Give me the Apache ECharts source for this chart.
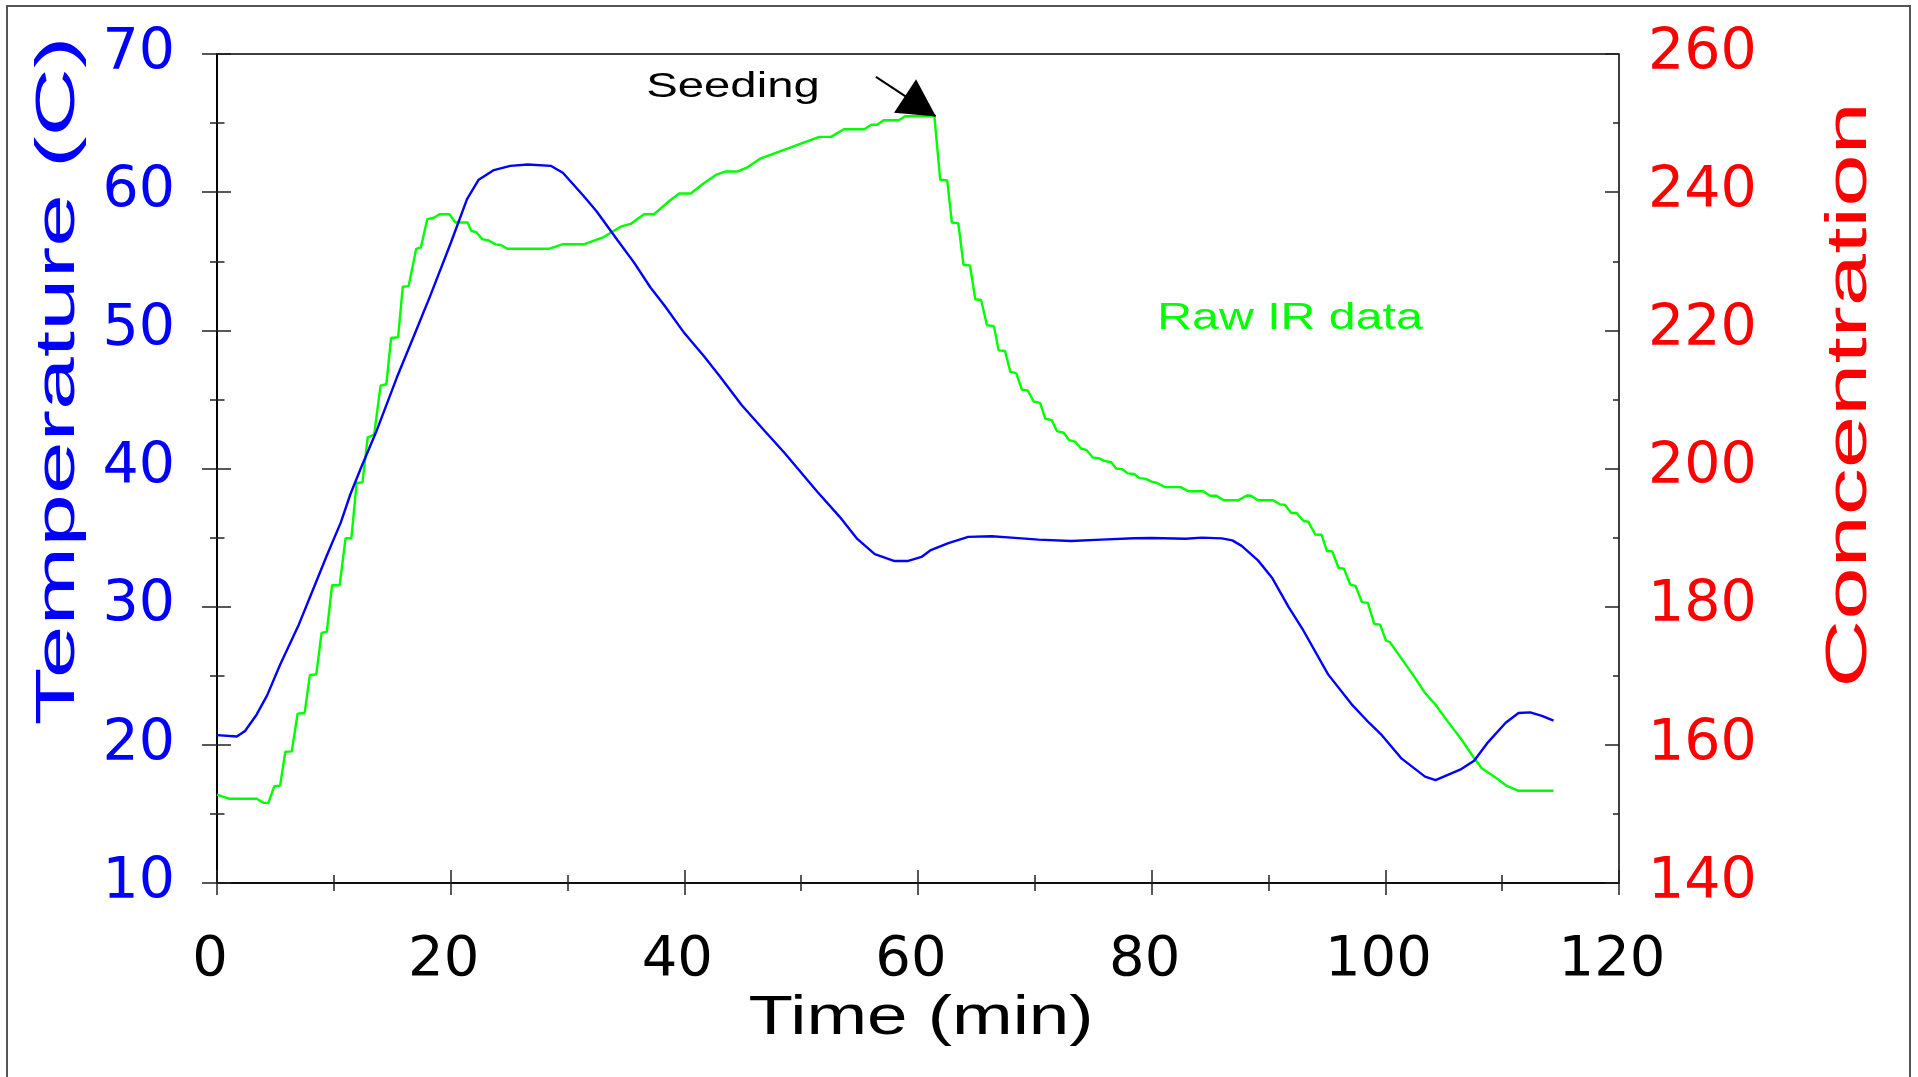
<!DOCTYPE html>
<html>
<head>
<meta charset="utf-8">
<script src="https://cdn.jsdelivr.net/npm/echarts@6/dist/echarts.min.js"></script>
<style>
html,body{margin:0;padding:0;background:#fff;}
#chart{width:1918px;height:1077px;}
</style>
</head>
<body>
<div id="chart"></div>
<script>
// ---- Data ----
const tempTime = [0, 1.7, 2.4, 3.4, 4.3, 5.4, 6.4, 7.0, 8.3, 9.4, 10.6, 11.4, 12.3, 13.6, 15.4, 17.0, 18.3, 20.0, 21.4, 22.4, 23.7, 25.1, 26.6, 28.6, 29.6, 31.4, 32.5, 34.3, 35.7, 37.1, 38.3, 40.0, 41.7, 43.1, 44.9, 46.9, 48.6, 49.7, 51.4, 53.3, 54.8, 56.3, 58.0, 59.1, 60.3, 61.1, 62.6, 64.3, 66.3, 68.0, 70.3, 73.1, 75.7, 78.5, 80.0, 82.9, 84.3, 86.0, 86.9, 87.7, 89.1, 90.3, 91.7, 92.9, 95.1, 97.1, 98.6, 99.7, 101.4, 103.4, 104.3, 106.4, 107.6, 108.8, 110.3, 111.4, 112.4, 113.4, 114.4];
const tempValues = [20.7, 20.6, 21.0, 22.2, 23.6, 25.8, 27.6, 28.7, 31.4, 33.7, 36.1, 38.1, 40.0, 42.6, 46.6, 49.9, 52.6, 56.3, 59.5, 60.9, 61.6, 61.9, 62.0, 61.9, 61.4, 59.7, 58.6, 56.5, 54.9, 53.1, 51.8, 49.8, 48.1, 46.6, 44.6, 42.7, 41.1, 40.0, 38.3, 36.5, 34.9, 33.8, 33.3, 33.3, 33.6, 34.1, 34.6, 35.05, 35.1, 35.0, 34.85, 34.75, 34.85, 34.95, 34.97, 34.92, 35.0, 34.94, 34.8, 34.4, 33.35, 32.1, 30.0, 28.4, 25.1, 22.95, 21.6, 20.7, 19.0, 17.7, 17.45, 18.2, 18.85, 20.2, 21.6, 22.3, 22.35, 22.1, 21.75];

const concTime = [0, 1.0, 3.4, 4.0, 4.4, 4.9, 5.4, 5.85, 6.4, 6.9, 7.5, 7.95, 8.5, 8.95, 9.4, 9.85, 10.5, 11.0, 11.5, 11.95, 12.45, 12.9, 13.45, 14.0, 14.5, 14.9, 15.5, 15.9, 16.4, 17.05, 17.45, 18.0, 18.55, 19.05, 19.9, 20.4, 21.45, 21.75, 22.2, 22.7, 23.25, 23.85, 24.3, 24.85, 28.4, 29.55, 31.4, 33.1, 34.55, 35.4, 36.55, 37.4, 38.55, 39.55, 40.55, 41.55, 42.7, 43.55, 44.55, 45.4, 46.55, 51.55, 52.55, 53.65, 55.4, 56.0, 56.5, 57.05, 58.35, 58.9, 61.4, 61.9, 62.5, 62.9, 63.45, 63.9, 64.45, 64.9, 65.4, 65.9, 66.5, 66.9, 67.45, 67.9, 68.4, 68.9, 69.4, 69.9, 70.45, 70.9, 71.45, 71.9, 72.45, 72.95, 73.45, 73.95, 74.4, 74.95, 75.45, 75.95, 76.55, 76.95, 77.5, 77.95, 78.5, 78.95, 79.5, 80.0, 80.45, 81.15, 82.5, 83.15, 84.4, 85.0, 85.55, 86.15, 87.4, 88.15, 88.5, 89.1, 90.4, 91.0, 91.4, 91.95, 92.4, 93.0, 93.4, 94.0, 94.55, 95.0, 95.45, 96.0, 96.45, 97.0, 97.45, 98.0, 98.5, 99.05, 99.55, 100.05, 100.4, 101.4, 102.4, 103.4, 104.25, 105.4, 106.55, 107.55, 108.25, 109.4, 110.4, 111.4, 114.4];
const concValues = [152.8, 152.2, 152.2, 151.6, 151.6, 154.0, 154.1, 159.0, 159.05, 164.5, 164.6, 170.1, 170.2, 176.2, 176.35, 183.1, 183.1, 189.9, 189.9, 197.9, 198.0, 204.5, 204.9, 212.0, 212.2, 218.9, 219.0, 226.3, 226.4, 231.8, 232.0, 236.1, 236.3, 236.8, 236.8, 235.6, 235.6, 234.4, 234.2, 233.2, 233.0, 232.45, 232.35, 231.8, 231.8, 232.45, 232.45, 233.5, 235.0, 235.4, 236.8, 236.8, 238.5, 239.8, 239.8, 241.15, 242.5, 243.0, 243.0, 243.6, 244.9, 248.0, 248.0, 249.1, 249.1, 249.75, 249.75, 250.4, 250.4, 251.0, 251.0, 241.8, 241.7, 235.6, 235.5, 229.45, 229.4, 224.5, 224.4, 220.75, 220.6, 217.1, 217.0, 214.0, 213.8, 211.4, 211.3, 209.7, 209.5, 207.2, 207.0, 205.4, 205.2, 204.1, 203.9, 202.9, 202.7, 201.6, 201.5, 201.1, 200.9, 200.0, 199.9, 199.3, 199.2, 198.6, 198.5, 198.1, 197.9, 197.3, 197.3, 196.7, 196.7, 196.05, 196.05, 195.4, 195.4, 196.1, 196.05, 195.4, 195.4, 194.8, 194.75, 193.55, 193.55, 192.4, 192.3, 190.45, 190.4, 188.05, 188.0, 185.6, 185.5, 183.2, 183.0, 180.65, 180.55, 177.5, 177.4, 175.1, 174.85, 172.45, 170.05, 167.5, 165.9, 163.25, 160.7, 158.2, 156.6, 155.3, 154.05, 153.35, 153.35];

// axis ranges: [min, max, interval]
const timeAxis = [0, 120, 20];
const tempAxis = [10, 70, 10];
const concAxis = [140, 260, 20];

// Seeding annotation (time, concentration)
const seedingFrom = [56.4, 256.7];
const seedingTo = [61.5, 251.0];

// ---- Chart ----
const chart = echarts.init(document.getElementById('chart'), null, {renderer: 'canvas'});
const tickColor = '#222';
const labelFont = 'DejaVu Sans';

function axisCommon(range) {
  return {type: 'value', min: range[0], max: range[1], interval: range[2],
    splitLine: {show: false}, minorSplitLine: {show: false}};
}

const option = {
  animation: false,
  backgroundColor: '#fff',
  grid: {left: 217, top: 54, width: 1402, height: 829, show: true, borderColor: '#000', borderWidth: 1.5,
    backgroundColor: 'transparent', outerBoundsMode: 'none', containLabel: false},
  xAxis: [
    Object.assign(axisCommon(timeAxis), {
      position: 'bottom',
      axisLine: {show: true, lineStyle: {color: '#000', width: 1.5}},
      axisTick: {show: true, inside: false, length: 12, lineStyle: {color: tickColor, width: 1.5}},
      minorTick: {show: true, splitNumber: 2, length: 8, lineStyle: {color: tickColor, width: 1.5}},
      axisLabel: {show: true, color: '#000', fontFamily: labelFont, fontSize: 56, margin: 49,
        padding: [0, 14, 0, 0], showMinLabel: true, showMaxLabel: true}
    }),
    Object.assign(axisCommon(timeAxis), {
      position: 'bottom',
      axisLine: {show: false},
      axisTick: {show: true, inside: true, length: 13, lineStyle: {color: tickColor, width: 1.5}},
      minorTick: {show: true, splitNumber: 2, length: 8, lineStyle: {color: tickColor, width: 1.5}},
      axisLabel: {show: false}
    })
  ],
  yAxis: [
    Object.assign(axisCommon(tempAxis), {
      position: 'left',
      axisLine: {show: true, lineStyle: {color: '#000', width: 1.5}},
      axisTick: {show: true, inside: false, length: 15, lineStyle: {color: tickColor, width: 1.5}},
      minorTick: {show: true, splitNumber: 2, length: 7, lineStyle: {color: tickColor, width: 1.5}},
      axisLabel: {show: true, color: '#0000FF', fontFamily: labelFont, fontSize: 57, margin: 42,
        showMinLabel: true, showMaxLabel: true}
    }),
    Object.assign(axisCommon(concAxis), {
      position: 'right',
      axisLine: {show: true, lineStyle: {color: '#000', width: 1.5}},
      axisTick: {show: true, inside: false, length: 14, lineStyle: {color: tickColor, width: 1.5}},
      minorTick: {show: true, splitNumber: 2, length: 7.5, lineStyle: {color: tickColor, width: 1.5}},
      axisLabel: {show: true, color: '#FF0000', fontFamily: labelFont, fontSize: 57, margin: 29,
        showMinLabel: true, showMaxLabel: true}
    }),
    Object.assign(axisCommon(tempAxis), {
      position: 'left',
      axisLine: {show: false},
      axisTick: {show: true, inside: true, length: 14, lineStyle: {color: tickColor, width: 1.5}},
      minorTick: {show: true, splitNumber: 2, length: 6, lineStyle: {color: tickColor, width: 1.5}},
      axisLabel: {show: false}
    }),
    Object.assign(axisCommon(concAxis), {
      position: 'right',
      axisLine: {show: false},
      axisTick: {show: true, inside: true, length: 14, lineStyle: {color: tickColor, width: 1.5}},
      minorTick: {show: true, splitNumber: 2, length: 6, lineStyle: {color: tickColor, width: 1.5}},
      axisLabel: {show: false}
    })
  ],
  series: [
    {
      name: 'Temperature', type: 'line', xAxisIndex: 0, yAxisIndex: 0,
      data: tempTime.map((t, i) => [t, tempValues[i]]),
      symbol: 'none', showSymbol: false,
      lineStyle: {color: '#0000FF', width: 2.4}, itemStyle: {color: '#0000FF'},
      silent: true, z: 3
    },
    {
      name: 'Raw IR data', type: 'line', xAxisIndex: 0, yAxisIndex: 1,
      data: concTime.map((t, i) => [t, concValues[i]]),
      symbol: 'none', showSymbol: false,
      lineStyle: {color: '#00FF00', width: 2.4}, itemStyle: {color: '#00FF00'},
      silent: true, z: 2,
      markLine: {
        silent: true,
        symbol: ['none', 'triangle'],
        symbolSize: 40,
        label: {show: false},
        emphasis: {disabled: true},
        lineStyle: {color: '#000', width: 2, type: 'solid'},
        itemStyle: {color: '#000'},
        data: [[
          {coord: seedingFrom},
          {coord: seedingTo, symbol: 'triangle', symbolSize: [40, 37], symbolOffset: [0, 18]}
        ]]
      }
    }
  ],
  graphic: [
    {type: 'rect', silent: true, z: -10, shape: {x: 7, y: 6, width: 1903, height: 1100},
      style: {fill: 'none', stroke: '#555', lineWidth: 2}},
    {type: 'text', silent: true, x: 59, y: 381, rotation: Math.PI / 2, scaleX: 1.69,
      style: {text: 'Temperature (C)', font: '56px "Liberation Sans"', fill: '#0000FF',
        align: 'center', verticalAlign: 'middle', textAlign: 'center', textVerticalAlign: 'middle'}},
    {type: 'text', silent: true, x: 1850, y: 395, rotation: Math.PI / 2, scaleX: 1.65,
      style: {text: 'Concentration', font: '57px "Liberation Sans"', fill: '#FF0000',
        align: 'center', verticalAlign: 'middle', textAlign: 'center', textVerticalAlign: 'middle'}},
    {type: 'text', silent: true, x: 921, y: 1019, scaleX: 1.30,
      style: {text: 'Time (min)', font: '56px "Liberation Sans"', fill: '#000',
        align: 'center', verticalAlign: 'middle', textAlign: 'center', textVerticalAlign: 'middle'}},
    {type: 'text', silent: true, x: 733, y: 87, scaleX: 1.35,
      style: {text: 'Seeding', font: '35px "Liberation Sans"', fill: '#000',
        align: 'center', verticalAlign: 'middle', textAlign: 'center', textVerticalAlign: 'middle'}},
    {type: 'text', silent: true, x: 1290, y: 319, scaleX: 1.34,
      style: {text: 'Raw IR data', font: '36px "Liberation Sans"', fill: '#00FF00',
        align: 'center', verticalAlign: 'middle', textAlign: 'center', textVerticalAlign: 'middle'}}
  ]
};
chart.setOption(option);
</script>
</body>
</html>
